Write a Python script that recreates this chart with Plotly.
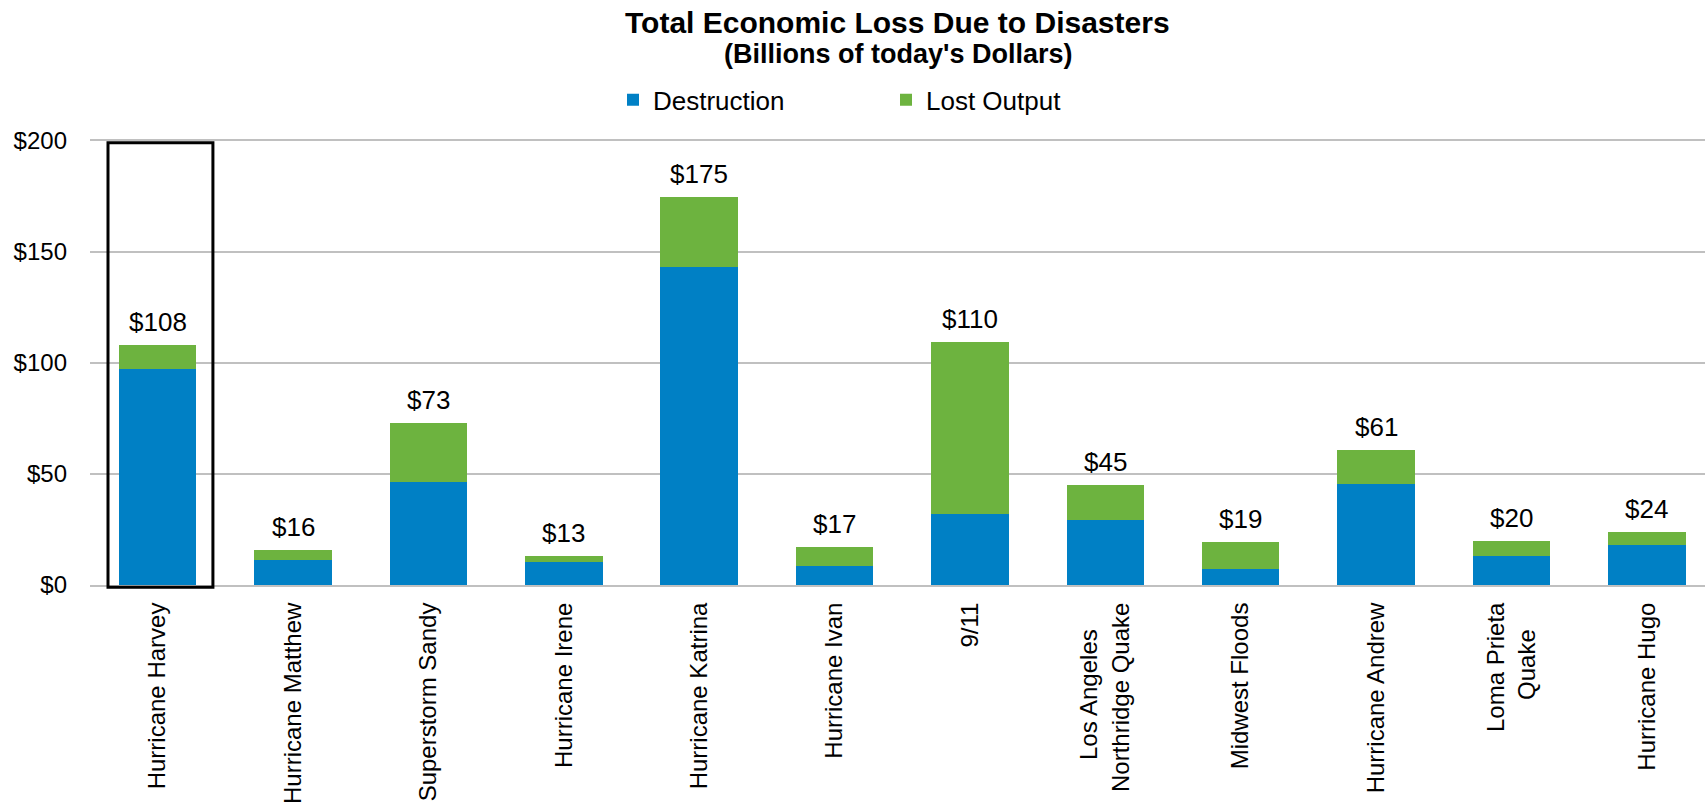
import plotly.graph_objects as go

NB = "\u00a0"
categories = ["Hurricane Harvey", "Hurricane Matthew", "Superstorm Sandy", "Hurricane Irene",
              "Hurricane Katrina", "Hurricane Ivan", "9/11",
              "Los Angeles" + NB * 4 + "<br>Northridge Quake",
              "Midwest Floods", "Hurricane Andrew", "Loma Prieta<br>Quake" + NB * 4,
              "Hurricane Hugo"]
destruction = [97.2, 11.3, 46.5, 10.5, 143.4, 8.7, 32.0, 29.4, 7.2, 45.6, 13.1, 18.2]
lost_output = [10.8, 4.3, 26.5, 2.6, 31.3, 8.3, 77.6, 15.6, 12.0, 15.0, 6.8, 5.8]
y_ticks = [0, 50, 100, 150, 200]

totals = [d + l for d, l in zip(destruction, lost_output)]
total_labels = ["$%d" % round(t) for t in totals]
y_ticktext = ["$%d" % v for v in y_ticks]

FONT = "Liberation Sans, Arial, sans-serif"
BLUE = "#0080c5"
GREEN = "#6db33f"
GRID = "#c0c0c0"

fig = go.Figure()
fig.add_trace(go.Bar(x=categories, y=destruction, name="Destruction",
                     marker=dict(color=BLUE, line=dict(width=0))))
fig.add_trace(go.Bar(x=categories, y=lost_output, name="Lost Output",
                     marker=dict(color=GREEN, line=dict(width=0))))

# total labels above each stack
for c, t, lab in zip(categories, totals, total_labels):
    fig.add_annotation(x=c, y=t, text=lab, showarrow=False, xanchor="center",
                       yanchor="bottom", yshift=6,
                       font=dict(size=26, family=FONT, color="black"))

# title (two lines)
fig.add_annotation(xref="paper", yref="paper", x=0.5, y=1.2669, xanchor="center", yanchor="middle",
                   text="<b>Total Economic Loss Due to Disasters</b>", showarrow=False,
                   font=dict(size=30, family=FONT, color="black"))
fig.add_annotation(xref="paper", yref="paper", x=0.5, y=1.1955, xanchor="center", yanchor="middle",
                   text="<b>(Billions of today's Dollars)</b>", showarrow=False,
                   font=dict(size=27, family=FONT, color="black"))

# highlight box around the first category
fig.add_shape(type="rect", xref="x", yref="paper", x0=-0.367, x1=0.408, y0=-0.005, y1=0.996,
              line=dict(color="black", width=3), fillcolor="rgba(0,0,0,0)", layer="above")

fig.update_layout(
    width=1705, height=806,
    margin=dict(l=90, r=0, t=141, b=221),
    paper_bgcolor="white", plot_bgcolor="white",
    barmode="stack", bargap=0.428,
    font=dict(family=FONT, color="black"),
    legend=dict(orientation="h", xref="paper", yref="paper",
                x=(613 - 90) / 1615, xanchor="left", y=1.0925, yanchor="middle",
                font=dict(size=26, family=FONT, color="black"),
                entrywidth=228, traceorder="normal"),
    showlegend=True,
)
fig.update_xaxes(range=[-0.5, 11.43], tickangle=-90,
                 tickfont=dict(size=24, family=FONT, color="black"),
                 showgrid=False, showline=True, linecolor=GRID, linewidth=2, mirror=True,
                 ticks="", ticklabelstandoff=6, automargin=False)
fig.update_yaxes(range=[0, 200], tickvals=y_ticks, ticktext=y_ticktext,
                 tickfont=dict(size=24, family=FONT, color="black"),
                 showgrid=True, gridcolor=GRID, gridwidth=2, zeroline=False,
                 showline=False, ticks="", ticklabelstandoff=22, automargin=False)

fig.write_html("out.html", config={"displayModeBar": False},
               post_script="document.body.style.margin='0';document.body.style.padding='0';")
